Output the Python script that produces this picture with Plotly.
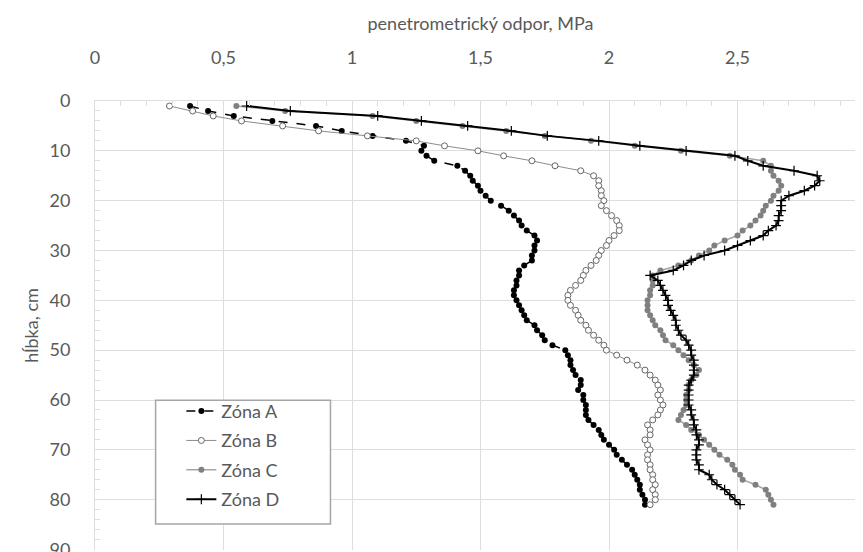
import plotly.graph_objects as go

depth = list(range(1, 82))

zona_a = [0.37, 0.44, 0.54, 0.69, 0.86, 0.96, 1.08, 1.21, 1.28, 1.27,
          1.29, 1.32, 1.41, 1.44, 1.46, 1.47, 1.49, 1.50, 1.52, 1.54,
          1.58, 1.61, 1.63, 1.65, 1.66, 1.68, 1.71, 1.72, 1.71, 1.71,
          1.70, 1.70, 1.67, 1.65, 1.65, 1.64, 1.64, 1.63, 1.63, 1.64,
          1.65, 1.66, 1.67, 1.68, 1.71, 1.72, 1.74, 1.75, 1.78, 1.83,
          1.84, 1.85, 1.85, 1.86, 1.87, 1.89, 1.89, 1.88, 1.90, 1.90,
          1.91, 1.91, 1.91, 1.92, 1.94, 1.96, 1.97, 1.98, 2.00, 2.02,
          2.03, 2.05, 2.07, 2.09, 2.10, 2.11, 2.12, 2.12, 2.13, 2.14,
          2.14]

zona_b = [0.29, 0.38, 0.46, 0.57, 0.73, 0.87, 1.06, 1.25, 1.36, 1.49,
          1.59, 1.70, 1.79, 1.89, 1.94, 1.96, 1.96, 1.97, 1.97, 1.98,
          1.97, 1.99, 2.01, 2.03, 2.04, 2.04, 2.02, 2.00, 1.99, 1.97,
          1.96, 1.95, 1.93, 1.91, 1.90, 1.89, 1.87, 1.85, 1.84, 1.84,
          1.85, 1.87, 1.88, 1.89, 1.91, 1.92, 1.94, 1.96, 1.98, 1.99,
          2.03, 2.07, 2.11, 2.14, 2.16, 2.18, 2.19, 2.20, 2.19, 2.20,
          2.21, 2.20, 2.19, 2.17, 2.15, 2.16, 2.16, 2.14, 2.15, 2.16,
          2.15, 2.15, 2.16, 2.16, 2.17, 2.17, 2.18, 2.17, 2.18, 2.18,
          2.16]

zona_c = [0.55, 0.74, 1.08, 1.25, 1.43, 1.60, 1.75, 1.93, 2.10, 2.28,
          2.47, 2.60, 2.63, 2.63, 2.64, 2.66, 2.67, 2.66, 2.64, 2.63,
          2.61, 2.60, 2.59, 2.57, 2.55, 2.52, 2.50, 2.45, 2.41, 2.39,
          2.35, 2.32, 2.27, 2.20, 2.17, 2.17, 2.17, 2.16, 2.16, 2.15,
          2.15, 2.15, 2.16, 2.17, 2.18, 2.20, 2.21, 2.22, 2.25, 2.27,
          2.29, 2.31, 2.33, 2.35, 2.34, 2.32, 2.31, 2.31, 2.30, 2.30,
          2.30, 2.29, 2.28, 2.27, 2.30, 2.32, 2.35, 2.37, 2.39, 2.41,
          2.43, 2.46, 2.48, 2.49, 2.51, 2.52, 2.57, 2.61, 2.62, 2.63,
          2.64]

zona_d = [0.59, 0.76, 1.10, 1.27, 1.45, 1.62, 1.76, 1.96, 2.12, 2.30,
          2.49, 2.54, 2.60, 2.72, 2.81, 2.82, 2.80, 2.76, 2.70, 2.67,
          2.67, 2.67, 2.66, 2.66, 2.65, 2.62, 2.60, 2.55, 2.50, 2.45,
          2.37, 2.32, 2.29, 2.25, 2.16, 2.19, 2.20, 2.21, 2.22, 2.23,
          2.23, 2.24, 2.25, 2.26, 2.26, 2.27, 2.28, 2.30, 2.31, 2.32,
          2.32, 2.33, 2.33, 2.33, 2.33, 2.32, 2.31, 2.31, 2.31, 2.31,
          2.31, 2.32, 2.32, 2.33, 2.33, 2.34, 2.34, 2.35, 2.35, 2.34,
          2.34, 2.34, 2.35, 2.35, 2.39, 2.40, 2.42, 2.45, 2.47, 2.49,
          2.51]

series_names = ["Zóna A", "Zóna B", "Zóna C", "Zóna D"]
x_title = "penetrometrický odpor, MPa"
y_title = "hĺbka, cm"

FONT = "Lato"
TXT = "#595959"
GRID = "#dedede"

fig = go.Figure()

fig.add_trace(go.Scatter(
    x=zona_a, y=depth, name=series_names[0], mode="lines+markers", legendgroup="a",
    line=dict(color="#000000", width=1.5, dash="dash"),
    marker=dict(symbol="circle", size=6, color="#000000"),
))
fig.add_trace(go.Scatter(
    x=zona_b, y=depth, name=series_names[1], mode="lines+markers", legendgroup="b",
    line=dict(color="#8c8c8c", width=1),
    marker=dict(symbol="circle", size=6, color="#ffffff",
                line=dict(color="#666666", width=1)),
))
fig.add_trace(go.Scatter(
    x=zona_c, y=depth, name=series_names[2], mode="lines+markers", legendgroup="c",
    line=dict(color="#a6a6a6", width=1.5),
    marker=dict(symbol="circle", size=6, color="#808080"),
))
fig.add_trace(go.Scatter(
    x=zona_d, y=depth, name=series_names[3], mode="lines+markers", legendgroup="d",
    line=dict(color="#000000", width=2),
    marker=dict(symbol="cross-thin", size=7,
                line=dict(color="#000000", width=1.2)),
))

fig.update_layout(
    width=863, height=552,
    margin=dict(l=87, r=0, t=93, b=9),
    paper_bgcolor="white", plot_bgcolor="white",
    separators=", ",
    font=dict(family=FONT, size=18, color=TXT),
    showlegend=True,
    legend=dict(
        x=0.112, y=0.35, xanchor="left", yanchor="top",
        bgcolor="rgba(0,0,0,0)", borderwidth=0,
        font=dict(family=FONT, size=18, color=TXT),
        traceorder="grouped", tracegroupgap=3,
    ),
    shapes=[dict(type="rect", xref="paper", yref="paper",
                 x0=0.0786, x1=0.3054, y0=0.0578, y1=0.3333,
                 line=dict(color="#a6a6a6", width=1.5),
                 fillcolor="white", layer="above")],
)

fig.update_xaxes(
    side="top", range=[0, 3], dtick=0.5, tick0=0,
    showgrid=True, gridcolor=GRID, gridwidth=1,
    showline=True, linecolor=GRID, linewidth=1,
    ticks="", ticklabelstandoff=29, ticklabeloverflow="allow",
    tickfont=dict(family=FONT, size=18, color=TXT),
    minor=dict(dtick=0.1, ticks="inside", ticklen=5, tickcolor=GRID, showgrid=False),
    zeroline=False,
    title=dict(text=x_title, font=dict(family=FONT, size=18, color=TXT), standoff=10),
)
fig.update_yaxes(
    range=[90.1, 0], dtick=10, tick0=0,
    showgrid=True, gridcolor=GRID, gridwidth=1,
    showline=True, linecolor=GRID, linewidth=1,
    ticks="", ticklabelstandoff=20, ticklabeloverflow="allow",
    tickfont=dict(family=FONT, size=18, color=TXT),
    minor=dict(dtick=2, ticks="inside", ticklen=5, tickcolor=GRID, showgrid=False),
    zeroline=False,
    title=dict(text=y_title, font=dict(family=FONT, size=18, color=TXT), standoff=6),
)

fig.write_html("out.html")
